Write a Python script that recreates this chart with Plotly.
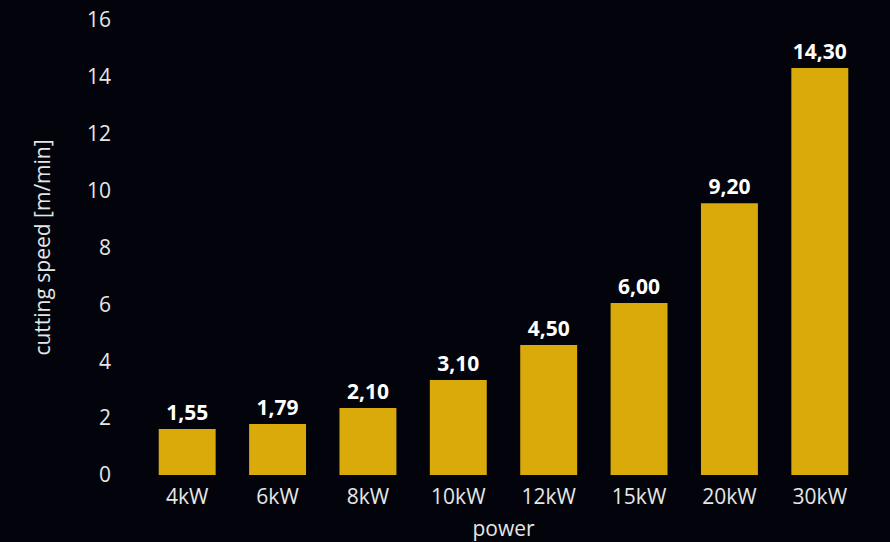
import plotly.graph_objects as go

categories = ["4kW", "6kW", "8kW", "10kW", "12kW", "15kW", "20kW", "30kW"]
bar_heights = [1.62, 1.79, 2.36, 3.34, 4.57, 6.05, 9.56, 14.31]
bar_labels = ["1,55", "1,79", "2,10", "3,10", "4,50", "6,00", "9,20", "14,30"]
y_ticks = [0, 2, 4, 6, 8, 10, 12, 14, 16]

BG = "#03040b"
BAR = "#d9aa0a"
FONT = "Open Sans"

fig = go.Figure(
    go.Bar(
        x=categories,
        y=bar_heights,
        text=bar_labels,
        texttemplate="%{text}",
        textposition="outside",
        textfont=dict(family=FONT, size=21, color="#ffffff", weight="bold"),
        marker=dict(color=BAR, line=dict(width=0)),
        cliponaxis=False,
        hoverinfo="skip",
    )
)

fig.update_layout(
    width=890,
    height=542,
    paper_bgcolor=BG,
    plot_bgcolor=BG,
    margin=dict(l=142, r=25, t=20, b=67, autoexpand=False),
    bargap=0.37,
    showlegend=False,
    font=dict(family=FONT, size=21, color="#e6e6e6"),
    xaxis=dict(
        title=dict(text="power", font=dict(size=21, color="#e6e6e6"), standoff=13),
        automargin=False,
        showgrid=False,
        showline=False,
        zeroline=False,
        ticks="",
        ticklabelstandoff=7,
        tickfont=dict(size=21, color="#e6e6e6"),
    ),
    yaxis=dict(
        title=dict(text="cutting speed [m/min]", font=dict(size=21, color="#e6e6e6"), standoff=30),
        automargin=False,
        range=[0, 16],
        tickvals=y_ticks,
        showgrid=False,
        showline=False,
        zeroline=False,
        ticks="",
        ticklabelstandoff=30,
        tickfont=dict(size=21, color="#e6e6e6"),
    ),
)

fig.write_html(
    "out.html",
    config={"displayModeBar": False},
    post_script="document.body.style.margin='0';document.body.style.background='#03040b';",
)
